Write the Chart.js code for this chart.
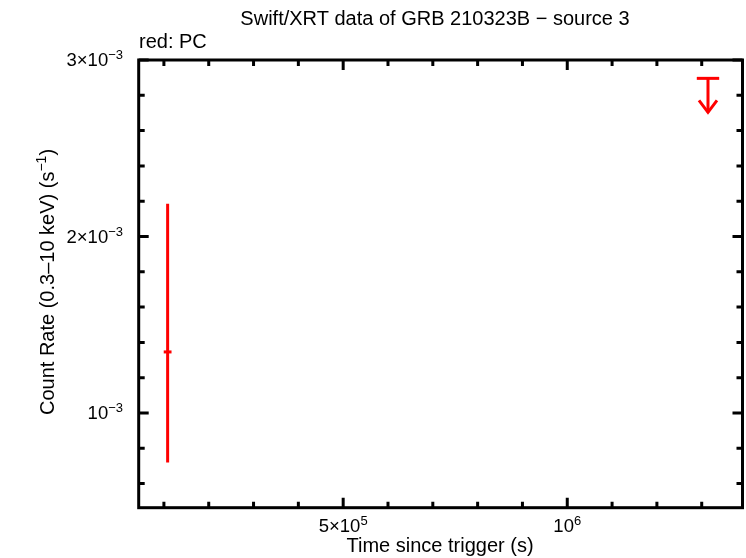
<!DOCTYPE html>
<html><head><meta charset="utf-8">
<script src="https://cdn.jsdelivr.net/npm/chart.js@4/dist/chart.umd.min.js"></script>
<style>html,body{margin:0;padding:0;background:#fff}#wrap{width:746px;height:558px}</style>
</head>
<body><div id="wrap"><canvas id="c" width="746" height="558"></canvas></div>
<script>
const titleText = 'Swift/XRT data of GRB 210323B \u2212 source 3';
const legendText = 'red: PC';
const xTitle = 'Time since trigger (s)';
const yTitleBase = 'Count Rate (0.3\u201310 keV) (s';
const yTitleSup = '\u22121';
const yTitleEnd = ')';

// PC detection
const pcTime = [1.083e5];
const pcTimeErr = [8.7e3];
const pcRate = [1.346e-3];
const pcRateErrPos = [0.840e-3];
const pcRateErrNeg = [0.626e-3];
// PC upper limit
const ulTime = [1.314e6];
const ulTimeErr = [2.5e4];
const ulRate = [2.896e-3];

const xRange = [4.375e4, 1.391e6];
const yRange = [4.635e-4, 3.0e-3];
const xMajorTicks = [5e5, 1e6];
const xMajorLabels = [['5\u00d710', '5'], ['10', '6']];
const xMinorTicks = [1e5, 2e5, 3e5, 4e5, 6e5, 7e5, 8e5, 9e5, 1.1e6, 1.2e6, 1.3e6];
const yMajorTicks = [1e-3, 2e-3, 3e-3];
const yMajorLabels = [['10', '\u22123'], ['2\u00d710', '\u22123'], ['3\u00d710', '\u22123']];
const yMinorTicks = [6e-4, 8e-4, 1.2e-3, 1.4e-3, 1.6e-3, 1.8e-3, 2.2e-3, 2.4e-3, 2.6e-3, 2.8e-3];

const FONT = '"Liberation Sans", Arial, Helvetica, sans-serif';
const RED = '#ff0000';

function drawSup(ctx, base, sup, x, y, align, fs, sfs, raise, tail) {
  ctx.font = fs + 'px ' + FONT; const w1 = ctx.measureText(base).width;
  const w3 = tail ? ctx.measureText(tail).width : 0;
  ctx.font = sfs + 'px ' + FONT; const w2 = ctx.measureText(sup).width;
  const tot = w1 + w2 + w3;
  const x0 = align === 'right' ? x - tot : align === 'center' ? x - tot / 2 : x;
  ctx.textAlign = 'left';
  ctx.font = fs + 'px ' + FONT;
  ctx.fillText(base, x0, y);
  ctx.font = sfs + 'px ' + FONT;
  ctx.fillText(sup, x0 + w1, y - raise);
  if (tail) { ctx.font = fs + 'px ' + FONT; ctx.fillText(tail, x0 + w1 + w2, y); }
}

const drawPlugin = {
  id: 'gnuplotLook',
  afterDraw(chart) {
    const ctx = chart.ctx, xs = chart.scales.x, ys = chart.scales.y, a = chart.chartArea;
    ctx.save();
    ctx.fillStyle = '#000';
    ctx.textBaseline = 'alphabetic';
    // title & legend
    ctx.font = '20px ' + FONT; ctx.textAlign = 'center';
    ctx.fillText(titleText, 435, 25);
    ctx.textAlign = 'left';
    ctx.fillText(legendText, 139, 48);
    // x title
    ctx.textAlign = 'center';
    ctx.fillText(xTitle, 440, 552);
    // y title
    ctx.save();
    ctx.translate(53.5, 282); ctx.rotate(-Math.PI / 2);
    drawSup(ctx, yTitleBase, yTitleSup, 0, 0, 'center', 20, 14, 8, yTitleEnd);
    ctx.restore();

    // frame
    ctx.strokeStyle = '#000'; ctx.lineWidth = 3; ctx.lineCap = 'butt';
    ctx.strokeRect(a.left, a.top, a.right - a.left, a.bottom - a.top);
    // ticks
    const tick = (v, len, axis) => {
      if (axis === 'x') {
        const p = xs.getPixelForValue(v);
        ctx.beginPath(); ctx.moveTo(p, a.bottom); ctx.lineTo(p, a.bottom - len);
        ctx.moveTo(p, a.top); ctx.lineTo(p, a.top + len); ctx.stroke();
      } else {
        const p = ys.getPixelForValue(v);
        ctx.beginPath(); ctx.moveTo(a.left, p); ctx.lineTo(a.left + len, p);
        ctx.moveTo(a.right, p); ctx.lineTo(a.right - len, p); ctx.stroke();
      }
    };
    xMinorTicks.forEach(v => tick(v, 6, 'x'));
    xMajorTicks.forEach(v => tick(v, 10, 'x'));
    yMinorTicks.forEach(v => tick(v, 6, 'y'));
    yMajorTicks.forEach(v => tick(v, 10, 'y'));
    // tick labels
    xMajorTicks.forEach((v, i) => {
      drawSup(ctx, xMajorLabels[i][0], xMajorLabels[i][1], xs.getPixelForValue(v), 532, 'center', 18.5, 13, 7);
    });
    yMajorTicks.forEach((v, i) => {
      drawSup(ctx, yMajorLabels[i][0], yMajorLabels[i][1], 123, ys.getPixelForValue(v) + 6, 'right', 18.5, 13, 7);
    });

    // data: error bars
    ctx.strokeStyle = RED; ctx.lineWidth = 3;
    pcTime.forEach((t, i) => {
      const px = xs.getPixelForValue(t);
      const py = ys.getPixelForValue(pcRate[i]);
      const pTop = ys.getPixelForValue(pcRate[i] + pcRateErrPos[i]);
      const pBot = ys.getPixelForValue(pcRate[i] - pcRateErrNeg[i]);
      const pL = xs.getPixelForValue(t - pcTimeErr[i]);
      const pR = xs.getPixelForValue(t + pcTimeErr[i]);
      ctx.beginPath(); ctx.moveTo(px, pTop); ctx.lineTo(px, pBot); ctx.stroke();
      ctx.beginPath(); ctx.moveTo(pL, py); ctx.lineTo(pR, py); ctx.stroke();
    });
    // upper limits
    ulTime.forEach((t, i) => {
      const px = xs.getPixelForValue(t);
      const py = ys.getPixelForValue(ulRate[i]);
      const pL = xs.getPixelForValue(t - ulTimeErr[i]);
      const pR = xs.getPixelForValue(t + ulTimeErr[i]);
      ctx.beginPath(); ctx.moveTo(pL, py); ctx.lineTo(pR, py); ctx.stroke();
      ctx.beginPath(); ctx.moveTo(px, py); ctx.lineTo(px, py + 34); ctx.stroke();
      ctx.beginPath(); ctx.moveTo(px - 9, py + 22); ctx.lineTo(px, py + 34); ctx.lineTo(px + 9, py + 22); ctx.stroke();
    });
    ctx.restore();
  }
};

new Chart(document.getElementById('c'), {
  type: 'scatter',
  data: {
    datasets: [
      { label: 'PC', data: pcTime.map((t, i) => ({ x: t, y: pcRate[i] })), pointRadius: 0, borderColor: RED, backgroundColor: RED },
      { label: 'PC UL', data: ulTime.map((t, i) => ({ x: t, y: ulRate[i] })), pointRadius: 0, borderColor: RED, backgroundColor: RED }
    ]
  },
  options: {
    responsive: false,
    animation: false,
    events: [],
    layout: { padding: { top: 60, right: 3.5, left: 0, bottom: 0 } },
    plugins: { legend: { display: false }, title: { display: false }, tooltip: { enabled: false } },
    scales: {
      x: {
        type: 'linear', min: xRange[0], max: xRange[1],
        grid: { display: false }, border: { display: false }, ticks: { display: false },
        afterFit: s => { s.height = 558 - 507.7; }
      },
      y: {
        type: 'linear', min: yRange[0], max: yRange[1],
        grid: { display: false }, border: { display: false }, ticks: { display: false },
        afterFit: s => { s.width = 138.7; }
      }
    }
  },
  plugins: [drawPlugin]
});
</script>
</body></html>
